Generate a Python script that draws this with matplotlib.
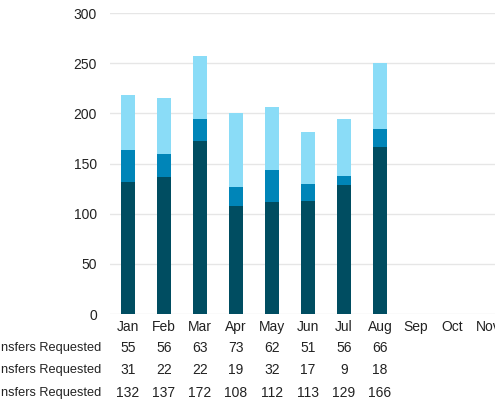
import matplotlib
matplotlib.use("Agg")
import matplotlib.pyplot as plt
import numpy as np

plt.rcParams['font.family'] = ['Liberation Sans', 'DejaVu Sans']

# the reference is cropped on the right: Nov is only half visible, Dec not at all
months = ['Jan', 'Feb', 'Mar', 'Apr', 'May', 'Jun', 'Jul', 'Aug', 'Sep', 'Oct', 'Nov']
# rows of the table, top to bottom (top row = top segment of the stack)
row_labels = ['nsfers Requested', 'nsfers Requested', 'nsfers Requested']
top_vals = [55, 56, 63, 73, 62, 51, 56, 66]
mid_vals = [31, 22, 22, 19, 32, 17, 9, 18]
bottom_vals = [132, 137, 172, 108, 112, 113, 129, 166]

c_bottom = '#004d61'
c_mid = '#0085b8'
c_top = '#8adcf7'

fig = plt.figure(figsize=(4.95, 4.0), dpi=100)
ax = fig.add_axes([110 / 495, 86 / 400, 385 / 495, 301 / 400])

x = np.arange(len(bottom_vals))
w = 0.39
bottom = np.array(bottom_vals)
mid = np.array(mid_vals)
top = np.array(top_vals)
ax.bar(x, bottom, w, color=c_bottom, zorder=3)
ax.bar(x, mid, w, bottom=bottom, color=c_mid, zorder=3)
ax.bar(x, top, w, bottom=bottom + mid, color=c_top, zorder=3)

ax.set_xlim(-0.5, -0.5 + 385 / 36)
ax.set_ylim(0, 300)
ax.set_yticks(range(0, 301, 50))
ax.set_xticks(range(len(months)))
ax.set_xticklabels(months)
ax.yaxis.grid(True, color='#e6e6e6', linewidth=1, zorder=0)
ax.set_axisbelow(True)
for s in ax.spines.values():
    s.set_visible(False)
ax.tick_params(axis='both', length=0, labelsize=10, colors='#222222')
ax.tick_params(axis='y', pad=9.5)
ax.tick_params(axis='x', pad=4)

# data table under the chart
row_y = [-0.113, -0.186, -0.262]
table = [top_vals, mid_vals, bottom_vals]
trans = ax.get_xaxis_transform()
for ry, label, vals in zip(row_y, row_labels, table):
    fig_y = (86 + ry * 301) / 400
    fig.text(101 / 495, fig_y, label, ha='right', va='center',
             fontsize=9.2, color='#222222')
    for i, v in enumerate(vals):
        ax.text(i, ry, str(v), transform=trans, ha='center', va='center',
                fontsize=10, color='#222222')

fig.savefig('out.png', dpi=100)
